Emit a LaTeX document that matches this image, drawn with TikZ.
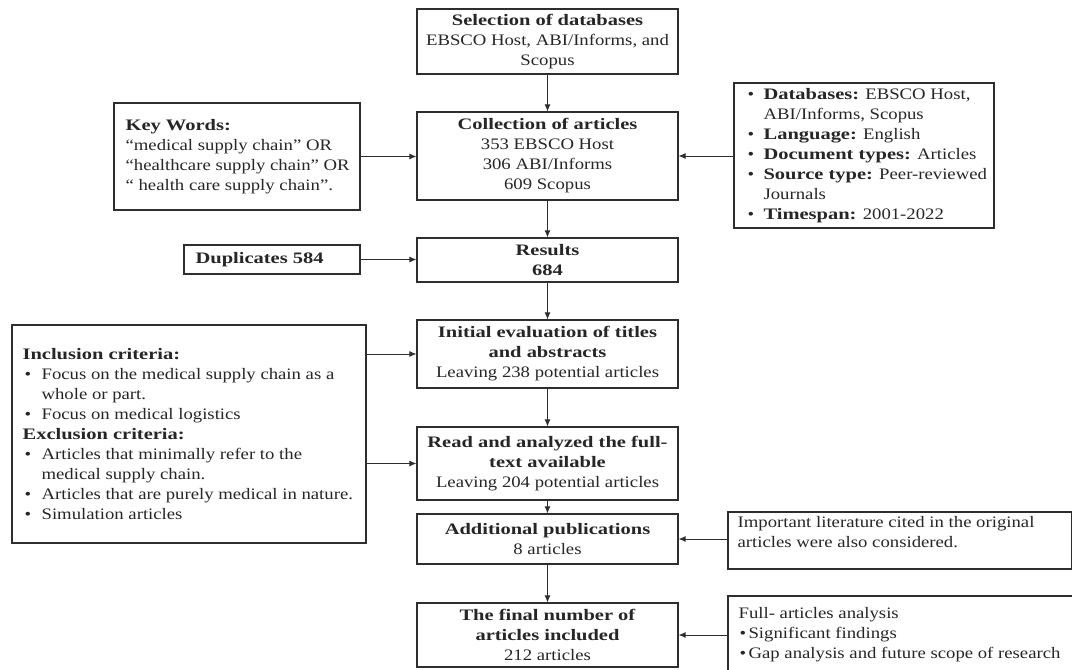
\documentclass[tikz,border=0pt]{standalone}
\usepackage{fontspec}
\setmainfont{Liberation Serif}[UprightFeatures={FakeStretch=1.17}, BoldFeatures={FakeStretch=1.28}]
\usetikzlibrary{arrows.meta}
\definecolor{ink}{gray}{0.15}
\definecolor{frame}{gray}{0.18}
\newcommand{\bulA}{\makebox[16pt][l]{\textbullet}}
\newcommand{\indA}{\hspace*{16pt}}
\newcommand{\bulB}{\hspace*{2pt}\makebox[17pt][l]{\textbullet}}
\newcommand{\indB}{\hspace*{19pt}}
\newcommand{\bulC}{\hspace*{1pt}\makebox[9pt][l]{\textbullet}}
\begin{document}
\begin{tikzpicture}[x=1pt,y=-1pt,
  font=\fontsize{16}{20}\selectfont,
  box/.style={draw=frame, line width=1.2pt, inner sep=0pt, align=center, text=ink},
  mainbox/.style={box, minimum width=261pt},
  lst/.style={align=left, inner sep=0pt, text=ink, anchor=west},
  arr/.style={-{Latex[length=7pt,width=6pt]}, line width=0.9pt, draw=frame}]
\clip (0,0) rectangle (1072,670);
\fill[white] (0,0) rectangle (1072,670);

% main column
\node[mainbox, minimum height=65pt] (sel) at (547.5,41.5) {\textbf{Selection of databases}\\EBSCO Host, ABI/Informs, and\\Scopus};
\node[mainbox, minimum height=88pt] (coll) at (547.5,156) {\textbf{Collection of articles}\\353 EBSCO Host\\306 ABI/Informs\\609 Scopus};
\node[mainbox, minimum height=44pt] (res) at (547.5,260) {\textbf{Results}\\\textbf{684}};
\node[mainbox, minimum height=68pt] (init) at (547.5,354) {\textbf{Initial evaluation of titles}\\\textbf{and abstracts}\\Leaving 238 potential articles};
\node[mainbox, minimum height=73pt] (read) at (547.5,463.5) {\textbf{Read and analyzed the full-}\\\textbf{text available}\\Leaving 204 potential articles};
\node[mainbox, minimum height=50pt] (add) at (547.5,539) {\textbf{Additional publications}\\8 articles};
\node[mainbox, minimum height=64pt] (fin) at (547.5,635) {\textbf{The final number of}\\\textbf{articles included}\\212 articles};

% side boxes
\node[box, minimum width=246pt, minimum height=107pt] (kw) at (237,156.5) {};
\node[lst] (kwt) at ([xshift=12pt]kw.west) {\textbf{Key Words:}\\“medical supply chain” OR\\“healthcare supply chain” OR\\“ health care supply chain”.};

\node[box, minimum width=260pt, minimum height=145pt] (db) at (864,155.5) {};
\node[lst] (dbt) at ([xshift=14pt]db.west) {\bulA\textbf{Databases:} EBSCO Host,\\\indA ABI/Informs, Scopus\\\bulA\textbf{Language:} English\\\bulA\textbf{Document types:} Articles\\\bulA\textbf{Source type:} Peer-reviewed\\\indA Journals\\\bulA\textbf{Timespan:} 2001-2022};

\node[box, minimum width=176pt, minimum height=29pt] (dup) at (272,259.5) {};
\node[lst] (dupt) at ([xshift=12pt]dup.west) {\textbf{Duplicates 584}};

\node[box, minimum width=354pt, minimum height=218pt] (inc) at (189,434) {};
\node[lst] (inct) at ([xshift=11pt]inc.west) {\textbf{Inclusion criteria:}\\\bulB Focus on the medical supply chain as a\\\indB whole or part.\\\bulB Focus on medical logistics\\\textbf{Exclusion criteria:}\\\bulB Articles that minimally refer to the\\\indB medical supply chain.\\\bulB Articles that are purely medical in nature.\\\bulB Simulation articles};

\node[box, minimum width=343.3pt, minimum height=57pt] (imp) at (899.65,540.5) {};
\node[lst] (impt) at ([xshift=10pt,yshift=8.5pt]imp.west) {Important literature cited in the original\\articles were also considered.};

\node[box, minimum width=360pt, minimum height=90pt] (full) at (908,641) {};
\node[lst] (fullt) at ([xshift=11pt,yshift=6pt]full.west) {Full- articles analysis\\\bulC Significant findings\\\bulC Gap analysis and future scope of research};

% connectors
\draw[arr] (sel) -- (coll);
\draw[arr] (coll) -- (res);
\draw[arr] (res) -- (init);
\draw[arr] (init) -- (read);
\draw[arr] (read) -- (add);
\draw[arr] (add) -- (fin);
\draw[arr] (kw.east) -- (kw.east -| coll.west);
\draw[arr] (db.west |- coll.east) -- (coll.east);
\draw[arr] (dup.east) -- (dup.east -| res.west);
\draw[arr] (inc.east |- init.west) -- (init.west);
\draw[arr] (inc.east |- read.west) -- (read.west);
\draw[arr] (imp.west |- add.east) -- (add.east);
\draw[arr] (full.west |- fin.east) -- (fin.east);
\end{tikzpicture}
\end{document}
